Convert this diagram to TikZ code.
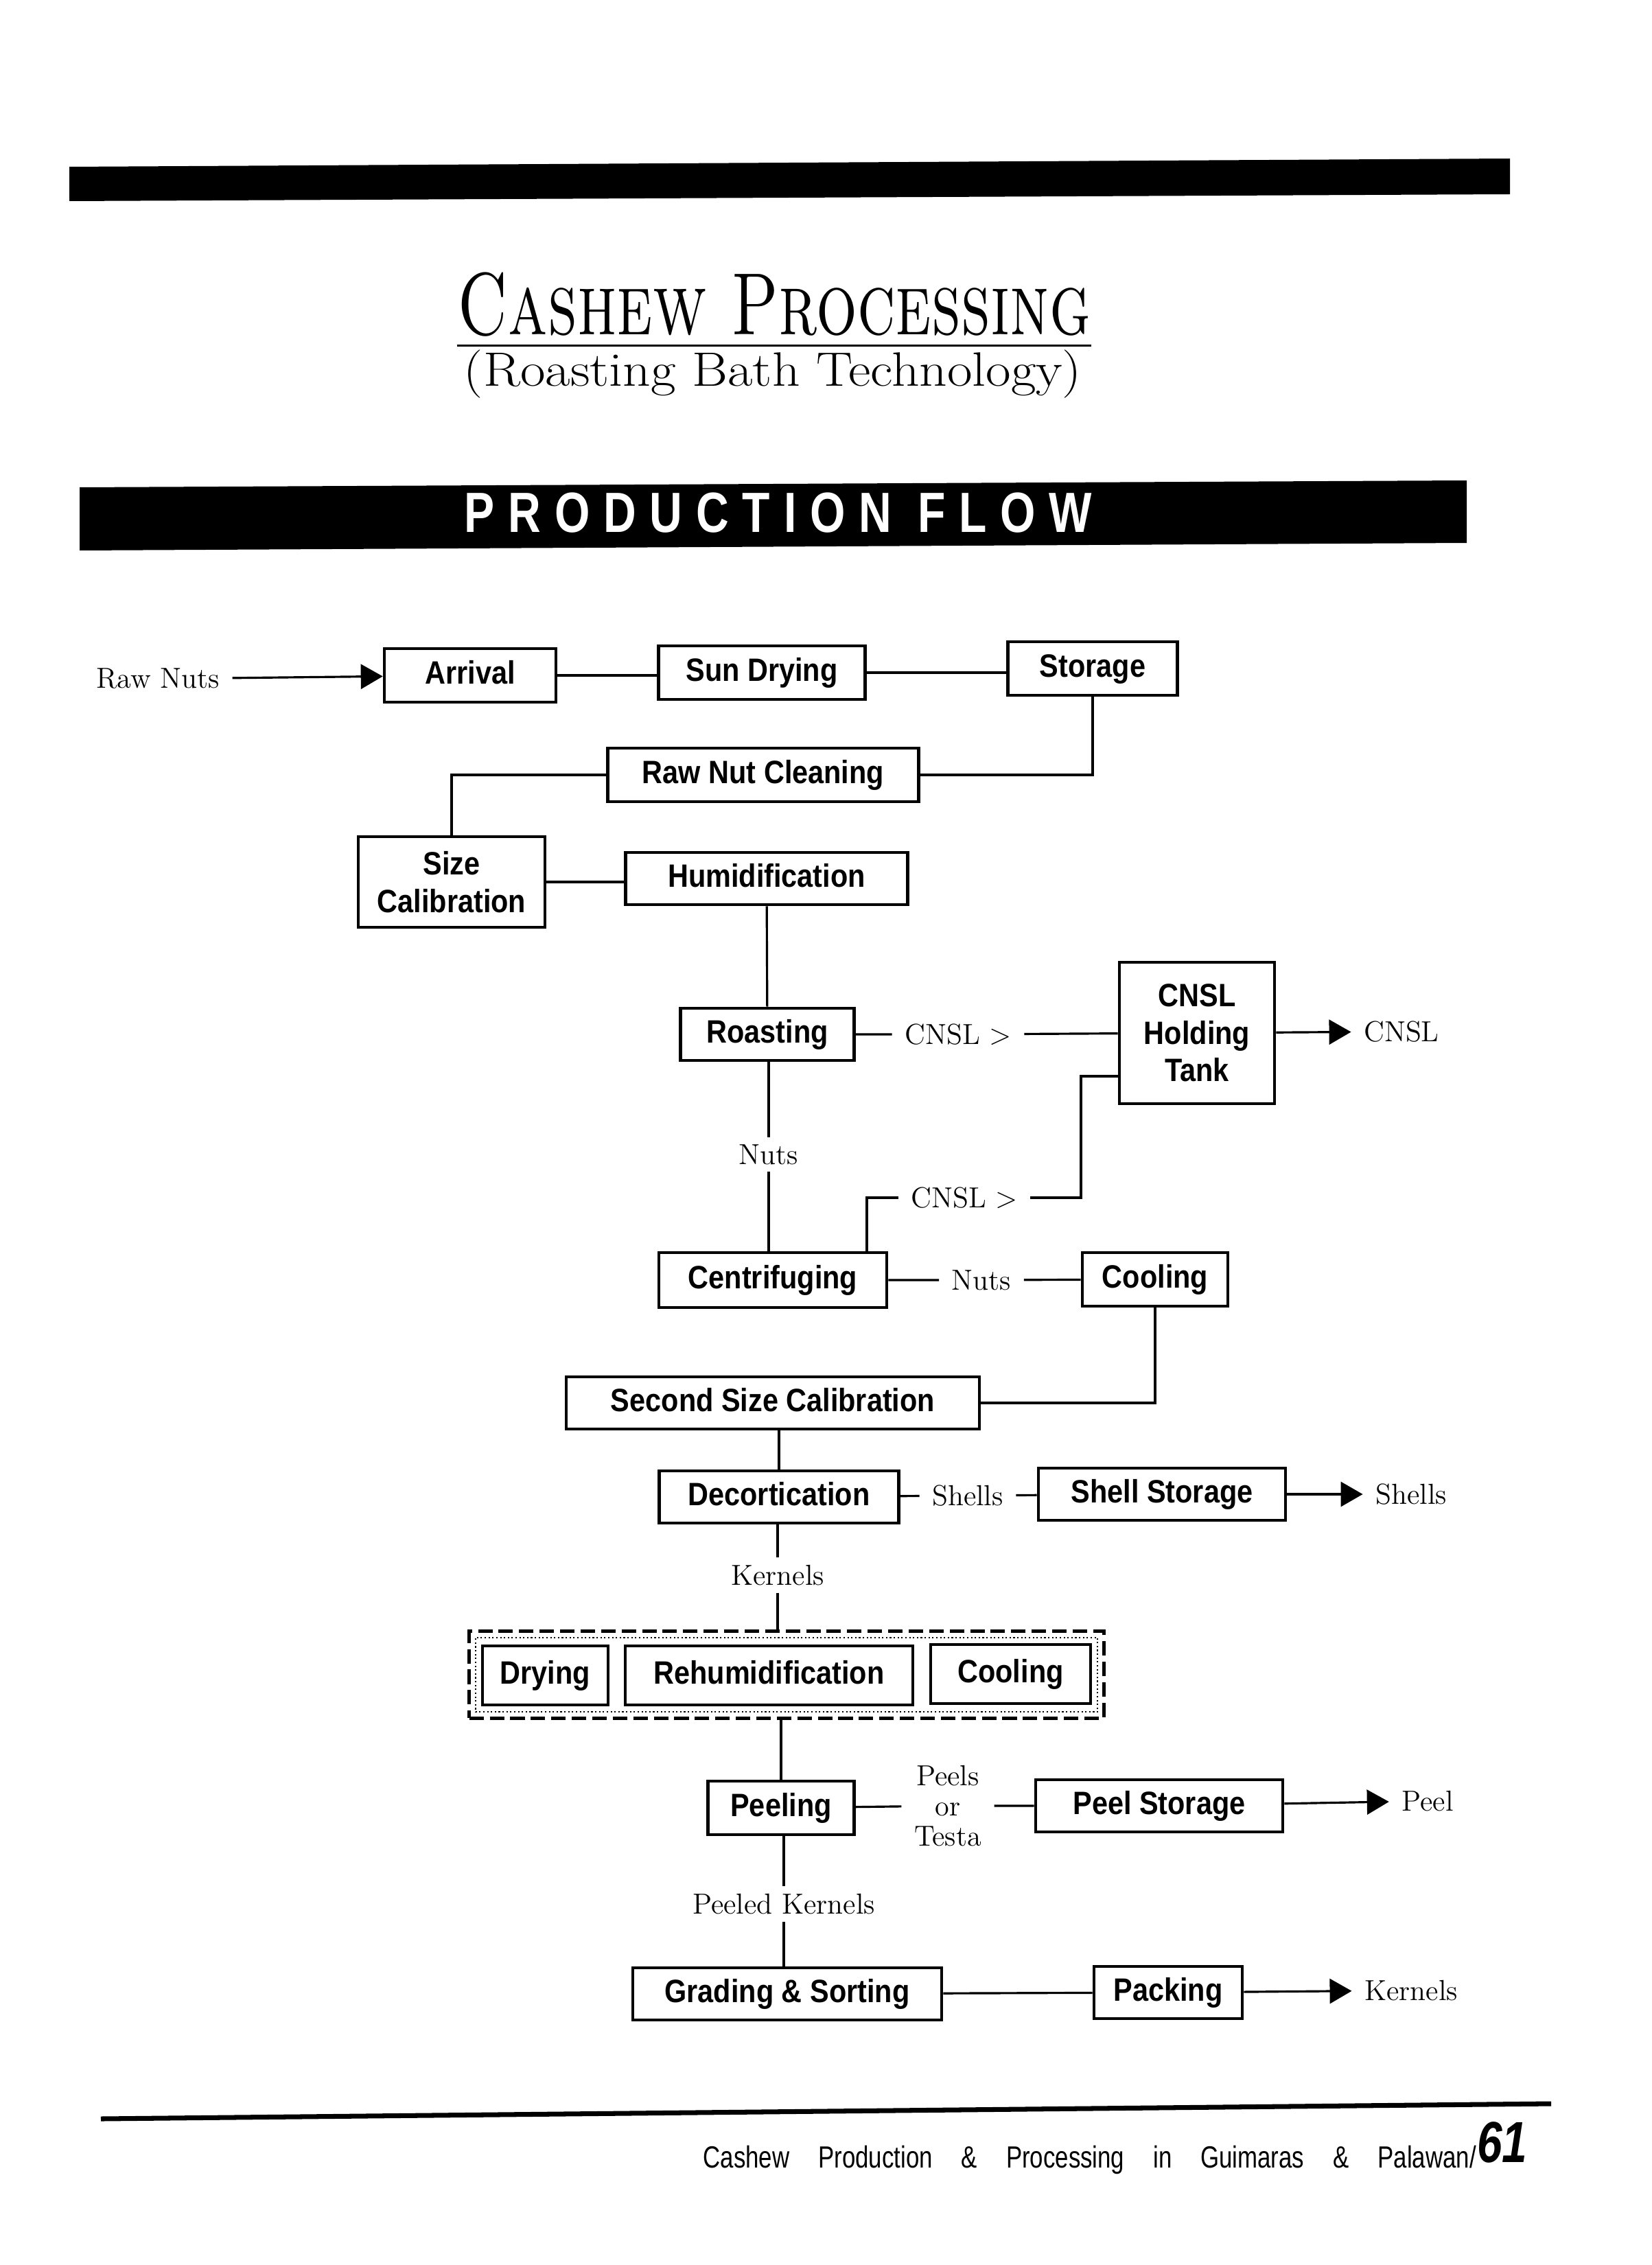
\documentclass[tikz,border=0pt]{standalone}
\usepackage{fontspec}
\usepackage{graphicx}
\usepackage{tikz}
\usetikzlibrary{arrows.meta,positioning,fit}

\newfontfamily\boxfont{Liberation Sans}[FakeStretch=0.88]
\newfontfamily\flowfont{Liberation Sans}[FakeStretch=0.8,LetterSpace=24]
\newfontfamily\footfont{Liberation Sans}[FakeStretch=0.78]

\begin{document}
\begin{tikzpicture}[
  procbox/.style={rectangle, draw, line width=1.3pt, minimum height=0.78cm, inner sep=0.1cm, align=center, font=\boxfont\bfseries\fontsize{13.4}{15.5}\selectfont},
  linebox/.style={procbox, text height=0.35cm, text depth=0.1cm},
  lbl/.style={inner xsep=0.18cm, inner ysep=0.1cm, align=center, font=\fontsize{12}{12.5}\selectfont},
  link/.style={line width=0.9pt},
  arrow/.style={line width=0.9pt, -{Triangle[length=0.32cm, width=0.36cm]}},
  groupbox/.style={draw, line width=1.5pt, dash pattern=on 6pt off 2.5pt, inner sep=0.17cm}
]

\useasboundingbox (0,0) rectangle (24.06,-33.00);

% Header
\fill (1.01,-2.43) -- (22.00,-2.31) -- (22.00,-2.83) -- (1.01,-2.93) -- cycle;
\node[anchor=base, inner xsep=0, inner ysep=0.12cm] (title) at (11.28,-4.88) {\scalebox{0.73}[1]{\fontsize{36.6}{40}\selectfont\textsc{Cashew Processing}}};
\draw[line width=1pt] (title.south west) -- (title.south east);
\node[anchor=base] (subtitle) at (11.26,-5.63) {\scalebox{1.13}[1]{\fontsize{20}{24}\selectfont (Roasting Bath Technology)}};

\fill (1.16,-7.10) -- (21.37,-7.00) -- (21.37,-7.91) -- (1.16,-8.02) -- cycle;
\node[anchor=base, text=white] (flowtitle) at (11.34,-7.75) {\flowfont\bfseries\fontsize{23.5}{26}\selectfont PRODUCTION FLOW};

% Raw nuts to roasting
\node[lbl] (rawnuts) at (2.30,-9.89) {Raw Nuts};
\node[linebox, minimum width=2.50cm] (arrival) at (6.85,-9.84) {Arrival};
\node[linebox, minimum width=3.01cm] (sundry) at (11.10,-9.80) {Sun Drying};
\node[linebox, minimum width=2.47cm] (storage) at (15.92,-9.74) {Storage};
\node[linebox, minimum width=4.53cm] (rawclean) at (11.12,-11.29) {Raw Nut Cleaning};
\node[procbox, minimum width=2.72cm, minimum height=1.32cm] (sizecal) at (6.58,-12.85) {Size\\Calibration};
\node[linebox, minimum width=4.11cm, minimum height=0.76cm] (humid) at (11.17,-12.80) {Humidification};
\node[linebox, minimum width=2.53cm, minimum height=0.76cm] (roast) at (11.18,-15.07) {Roasting};

\draw[arrow] (rawnuts) -- (arrival);
\draw[link] (arrival.east) -- (arrival.east -| sundry.west);
\draw[link] (sundry.east) -- (sundry.east -| storage.west);
\draw[link] (storage.south) |- (rawclean.east);
\draw[link] (rawclean.west) -| (sizecal.north);
\draw[link] (sizecal.east) -- (sizecal.east -| humid.west);
\draw[link] (humid) -- (roast);

% CNSL recovery
\node[lbl] (cnslA) at (13.96,-15.07) {CNSL >};
\node[procbox, minimum width=2.26cm, minimum height=2.06cm] (tank) at (17.44,-15.05) {CNSL\\Holding\\Tank};
\node[lbl] (cnslout) at (20.42,-15.03) {CNSL};
\node[lbl] (nutsA) at (11.20,-16.82) {Nuts};
\node[linebox, minimum width=3.32cm, minimum height=0.80cm] (centrif) at (11.26,-18.65) {Centrifuging};
\node[lbl] (cnslB) at (14.05,-17.45) {CNSL >};
\node[lbl] (nutsB) at (14.30,-18.65) {Nuts};
\node[linebox, minimum width=2.12cm] (coolA) at (16.83,-18.64) {Cooling};
\coordinate (cnslup) at (12.63,-18.25);
\coordinate (tankin) at (15.75,-15.68);

\draw[link] (roast) -- (cnslA) -- (tank);
\draw[arrow] (tank) -- (cnslout);
\draw[link] (nutsA |- roast.south) -- (nutsA) -- (nutsA |- centrif.north);
\draw[link] (cnslup) |- (cnslB);
\draw[link] (cnslB.east) -| (tankin) -- (tankin -| tank.west);
\draw[link] (centrif) -- (nutsB) -- (coolA);

% Shelling
\node[linebox, minimum width=6.02cm, minimum height=0.76cm] (secsize) at (11.26,-20.44) {Second Size Calibration};
\node[linebox, minimum width=3.49cm, minimum height=0.76cm] (decort) at (11.35,-21.81) {Decortication};
\node[lbl] (shellsA) at (14.10,-21.79) {Shells};
\node[linebox, minimum width=3.60cm, minimum height=0.76cm] (shellstor) at (16.93,-21.77) {Shell Storage};
\node[lbl] (shellsout) at (20.56,-21.77) {Shells};
\node[lbl] (kernelsA) at (11.33,-22.95) {Kernels};

\draw[link] (coolA.south) |- (secsize.east);
\draw[link] (decort |- secsize.south) -- (decort.north);
\draw[link] (decort) -- (shellsA) -- (shellstor);
\draw[arrow] (shellstor) -- (shellsout);

% Drying, rehumidification, cooling
\node[linebox, minimum width=1.83cm, minimum height=0.86cm] (drying) at (7.945,-24.41) {Drying};
\node[linebox, minimum width=4.19cm, minimum height=0.86cm] (rehum) at (11.205,-24.41) {Rehumidification};
\node[linebox, minimum width=2.33cm, minimum height=0.86cm] (coolB) at (14.725,-24.39) {Cooling};
\node[groupbox, fit=(drying) (rehum) (coolB)] (group) {};
\node[draw, densely dotted, line width=0.6pt, inner sep=0.08cm, fit=(drying) (rehum) (coolB)] (groupinner) {};

\draw[link] (kernelsA |- decort.south) -- (kernelsA) -- (kernelsA |- group.north);

% Peeling and packing
\node[linebox, minimum width=2.13cm] (peel) at (11.38,-26.34) {Peeling};
\node[lbl] (peels) at (13.81,-26.31) {Peels\\or\\Testa};
\node[linebox, minimum width=3.60cm, minimum height=0.76cm] (peelstor) at (16.89,-26.31) {Peel Storage};
\node[lbl] (peelout) at (20.80,-26.24) {Peel};
\node[lbl] (peeledK) at (11.42,-27.74) {Peeled Kernels};
\node[linebox, minimum width=4.50cm, minimum height=0.76cm] (grading) at (11.47,-29.05) {Grading \& Sorting};
\node[linebox, minimum width=2.16cm, minimum height=0.76cm] (packing) at (17.02,-29.03) {Packing};
\node[lbl] (kernelsout) at (20.56,-29.00) {Kernels};

\draw[link] (peel |- group.south) -- (peel.north);
\draw[link] (peel) -- (peels) -- (peelstor);
\draw[arrow] (peelstor) -- (peelout);
\draw[link] (peeledK |- peel.south) -- (peeledK) -- (peeledK |- grading.north);
\draw[link] (grading) -- (packing);
\draw[arrow] (packing) -- (kernelsout);

% Footer
\draw[line width=2pt] (1.47,-30.87) -- (22.60,-30.65);
\node[anchor=base west, inner sep=0] (footer) at (10.24,-31.58) {\footfont\fontsize{12.7}{14}\selectfont Cashew\hspace{0.42cm}Production\hspace{0.42cm}\&\hspace{0.42cm}Processing\hspace{0.42cm}in\hspace{0.42cm}Guimaras\hspace{0.42cm}\&\hspace{0.42cm}Palawan/};
\node[anchor=base west, inner sep=0, yshift=0.08cm] (pagenum) at (footer.base east) {\footfont\bfseries\itshape\fontsize{24}{26}\selectfont 61};

\end{tikzpicture}
\end{document}
